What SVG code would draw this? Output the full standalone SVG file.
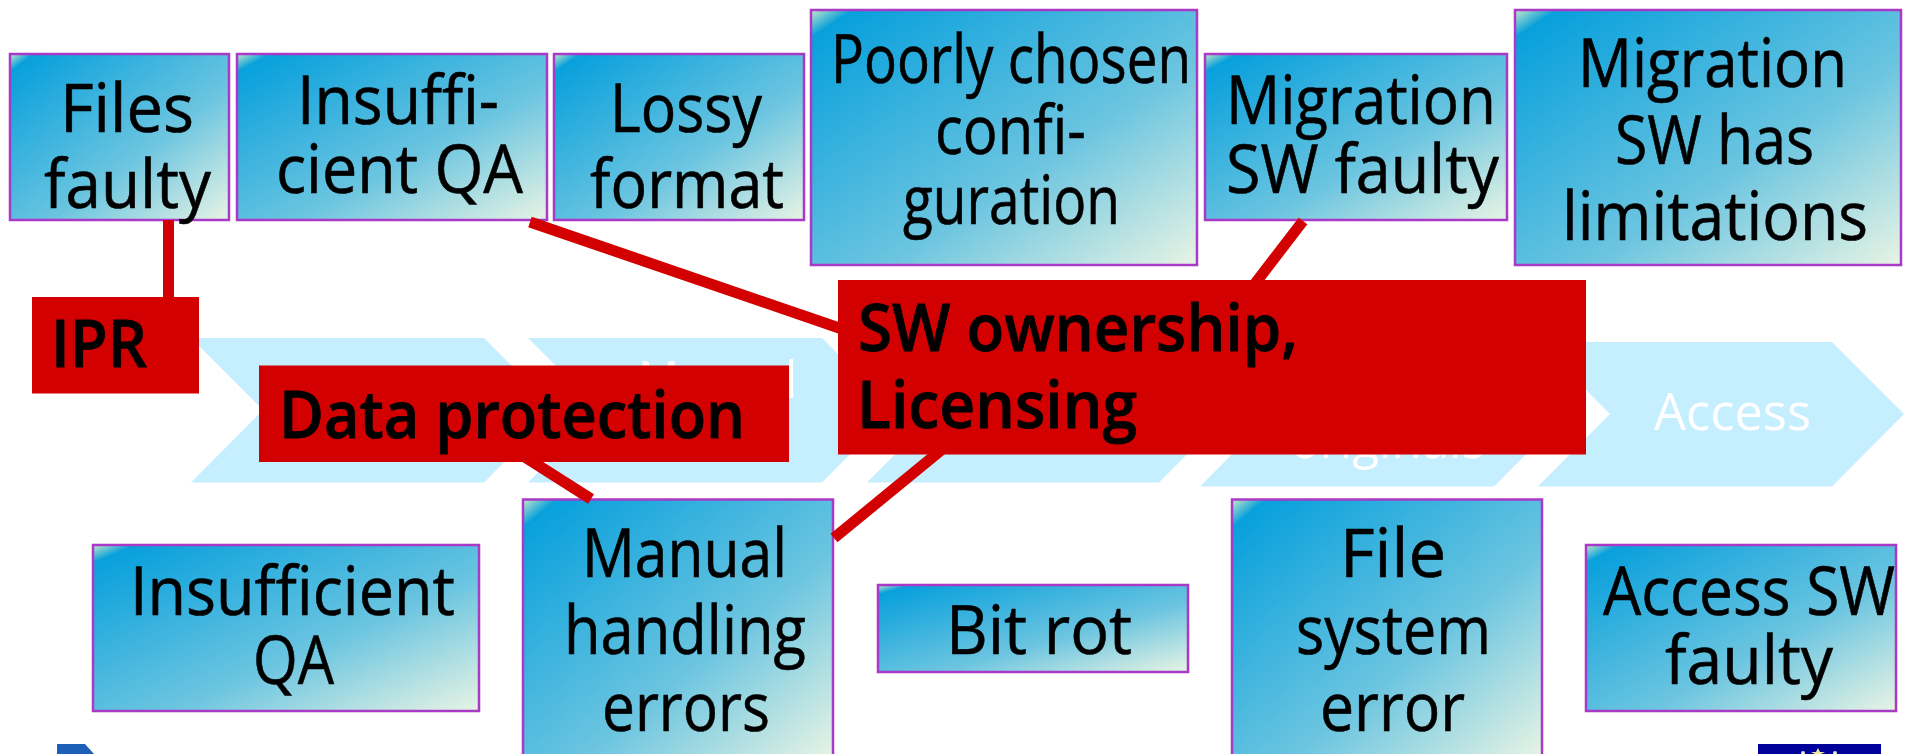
<svg xmlns="http://www.w3.org/2000/svg" width="1905" height="754" viewBox="0 0 1905 754">
<style>
.t{font-family:"Open Sans","Noto Sans",sans-serif;font-size:67px;fill:#000;stroke:#000;stroke-width:.6px}
.b{font-weight:600;font-size:66px;stroke-width:.8px}
.w{fill:#fff;stroke:#fff;stroke-width:0;font-size:52px}
.box{fill:url(#g);stroke:#A93AC8;stroke-width:2.5}
.red{fill:#D20000}
.chev{fill:#C5EEFF}
.conn{stroke:#D20000;stroke-width:11;fill:none}
</style>
<defs>
<linearGradient id="g" x1="0" y1="0" x2="1" y2="1">
<stop offset="0" stop-color="#C8E8C8"/>
<stop offset="0.055" stop-color="#08A0DC"/>
<stop offset="0.6" stop-color="#6CC5E0"/>
<stop offset="1" stop-color="#E8F4E4"/>
</linearGradient>
</defs>
<rect width="1905" height="754" fill="#fff"/>
<g id="chevrons">
<polygon class="chev" points="191,338 484,338 556,410 484,482.500 191,482.500 263,410"/>
<polygon class="chev" points="528,338 822,338 894,410 822,482.500 528,482.500 600,410"/>
<polygon class="chev" points="867,338 1159,338 1231,410 1159,482.500 867,482.500 939,410"/>
<polygon class="chev" points="1200,342 1494,342 1566,414 1494,486.500 1200,486.500 1272,414"/>
<polygon class="chev" points="1538,342 1832,342 1904,414 1832,486.500 1538,486.500 1610,414"/>
<text class="t w" x="638" y="398" textLength="159" lengthAdjust="spacingAndGlyphs">Manual</text>
<text class="t w" x="1290" y="458" textLength="195" lengthAdjust="spacingAndGlyphs">originals</text>
<text class="t w" x="1654" y="430" textLength="157" lengthAdjust="spacingAndGlyphs">Access</text>
</g>
<g id="n1"><rect class="box" x="10" y="54" width="219" height="166"/>
<text class="t" x="60" y="132" textLength="134" lengthAdjust="spacingAndGlyphs">Files</text>
<text class="t" x="44" y="208" textLength="167" lengthAdjust="spacingAndGlyphs">faulty</text></g>
<g id="n2"><rect class="box" x="237" y="54" width="310" height="166"/>
<text class="t" x="297" y="124" textLength="202" lengthAdjust="spacingAndGlyphs">Insuffi-</text>
<text class="t" x="276" y="193" textLength="247" lengthAdjust="spacingAndGlyphs">cient QA</text></g>
<g id="n3"><rect class="box" x="554" y="54" width="250" height="166"/>
<text class="t" x="610" y="132" textLength="152" lengthAdjust="spacingAndGlyphs">Lossy</text>
<text class="t" x="590" y="208" textLength="194" lengthAdjust="spacingAndGlyphs">format</text></g>
<g id="n4"><rect class="box" x="811" y="10" width="386" height="255"/>
<text class="t" x="831" y="83" textLength="360" lengthAdjust="spacingAndGlyphs">Poorly chosen</text>
<text class="t" x="935" y="154" textLength="151" lengthAdjust="spacingAndGlyphs">confi-</text>
<text class="t" x="903" y="224" textLength="217" lengthAdjust="spacingAndGlyphs">guration</text></g>
<g id="n5"><rect class="box" x="1205" y="54" width="302" height="166"/>
<text class="t" x="1226" y="124" textLength="270" lengthAdjust="spacingAndGlyphs">Migration</text>
<text class="t" x="1226" y="193" textLength="273" lengthAdjust="spacingAndGlyphs">SW faulty</text></g>
<g id="n6"><rect class="box" x="1515" y="10" width="386" height="255"/>
<text class="t" x="1578" y="87" textLength="269" lengthAdjust="spacingAndGlyphs">Migration</text>
<text class="t" x="1615" y="164" textLength="199" lengthAdjust="spacingAndGlyphs">SW has</text>
<text class="t" x="1562" y="240" textLength="306" lengthAdjust="spacingAndGlyphs">limitations</text></g>
<g id="n7"><rect class="box" x="93" y="545" width="386" height="166"/>
<text class="t" x="130" y="615" textLength="325" lengthAdjust="spacingAndGlyphs">Insufficient</text>
<text class="t" x="253" y="684" textLength="81" lengthAdjust="spacingAndGlyphs">QA</text></g>
<g id="n8"><rect class="box" x="523" y="499.500" width="310" height="258"/>
<text class="t" x="582" y="577" textLength="205" lengthAdjust="spacingAndGlyphs">Manual</text>
<text class="t" x="564" y="654" textLength="242" lengthAdjust="spacingAndGlyphs">handling</text>
<text class="t" x="602" y="731" textLength="168" lengthAdjust="spacingAndGlyphs">errors</text></g>
<g id="n9"><rect class="box" x="878" y="585" width="310" height="87"/>
<text class="t" x="946" y="654" textLength="186" lengthAdjust="spacingAndGlyphs">Bit rot</text></g>
<g id="n10"><rect class="box" x="1232" y="499.500" width="310" height="258"/>
<text class="t" x="1340" y="577" textLength="106" lengthAdjust="spacingAndGlyphs">File</text>
<text class="t" x="1296" y="654" textLength="195" lengthAdjust="spacingAndGlyphs">system</text>
<text class="t" x="1320" y="731" textLength="145" lengthAdjust="spacingAndGlyphs">error</text></g>
<g id="n11"><rect class="box" x="1586" y="545" width="310" height="166"/>
<text class="t" x="1603" y="615" textLength="292" lengthAdjust="spacingAndGlyphs">Access SW</text>
<text class="t" x="1665" y="684" textLength="168" lengthAdjust="spacingAndGlyphs">faulty</text></g>
<g id="connectors">
<line class="conn" x1="168.500" y1="220" x2="168.500" y2="300"/>
<line class="conn" x1="530" y1="222" x2="845" y2="330"/>
<line class="conn" x1="525" y1="457" x2="591" y2="499"/>
<line class="conn" x1="834" y1="538" x2="945" y2="447"/>
<line class="conn" x1="1303" y1="221" x2="1250" y2="290"/>
</g>
<g id="ipr"><rect class="red" x="32" y="297" width="167" height="96.500"/>
<text class="t b" x="51" y="367" textLength="96" lengthAdjust="spacingAndGlyphs">IPR</text></g>
<g id="data-protection"><rect class="red" x="259" y="365.500" width="530" height="96.500"/>
<text class="t b" x="279" y="438" textLength="466" lengthAdjust="spacingAndGlyphs">Data protection</text></g>
<g id="sw-ownership"><rect class="red" x="838" y="280" width="748" height="174.500"/>
<text class="t b" x="858" y="351" textLength="440" lengthAdjust="spacingAndGlyphs">SW ownership,</text>
<text class="t b" x="857" y="428" textLength="280" lengthAdjust="spacingAndGlyphs">Licensing</text></g>
<g id="logo-left"><polygon points="57,744 85,744 94,754 57,754" fill="#1E5FB8"/></g>
<g id="logo-right"><rect x="1758" y="744" width="123" height="10" fill="#00009A"/>
<polygon points="1818,748 1820,752 1825,752 1821,754 1815,754 1811,752 1816,752" fill="#F2E9A0"/>
<circle cx="1803" cy="753" r="2" fill="#E8E8D0"/><circle cx="1835" cy="753" r="2" fill="#E8E8D0"/></g>
</svg>
